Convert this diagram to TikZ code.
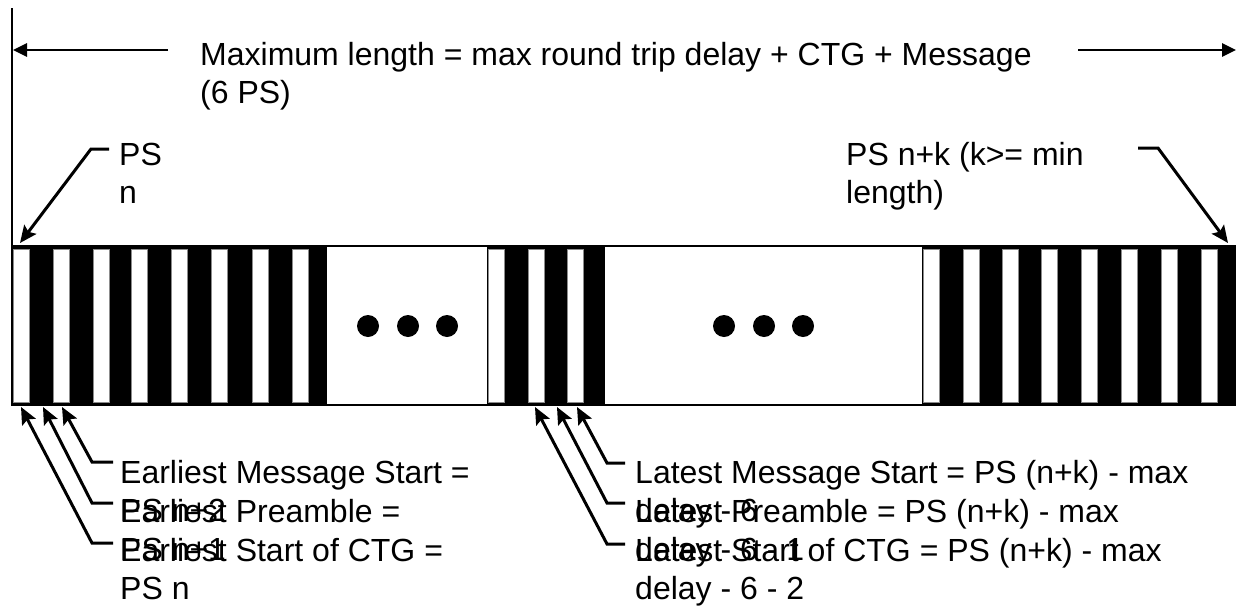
\documentclass[tikz,border=0pt]{standalone}
\usepackage{fontspec}
\setmainfont{Liberation Sans}
\usetikzlibrary{arrows.meta}
\newcommand\twoline[2]{\begin{tabular}[t]{@{}l@{}}#1\\#2\end{tabular}}
\begin{document}
\begin{tikzpicture}[x=1pt,y=-1pt,
  lbl/.style={anchor=base west, inner sep=0pt, font=\fontsize{32}{38.5}\selectfont},
  blk/.style={fill=black, draw=none},
  wstripe/.style={fill=white, draw=black!45, line width=0.8pt},
  dotc/.style={fill=black, draw=none},
  dimarrow/.style={line width=2.6pt, -{Triangle[length=14pt,width=13pt]}},
  leader/.style={line width=3pt, line join=miter, -{Stealth[length=17pt,width=15pt,inset=3pt]}},
  frame/.style={draw=black, line width=2.8pt}
]
\useasboundingbox (0,0) rectangle (1236,605);
% ---- bar ----
\fill[blk] (13,247) rectangle (327,404);
\fill[blk] (487,247) rectangle (605,404);
\fill[blk] (922,247) rectangle (1236,404);
\foreach \x in {13,53,93,131,171,211,252,292,488,528,567,923,963,1002,1041,1081,1121,1161,1201}
  \draw[wstripe] (\x,249) rectangle ++(16,153);
\draw[frame] (12,246) rectangle (1238,405);
\foreach \x in {368,408,447,724,764,803}
  \fill[dotc] (\x,326) circle (11);
% ---- top dimension ----
\draw[line width=2.6pt] (12,8) -- (12,246);
\coordinate (la) at (168,50); \coordinate (lb) at (13,50);
\coordinate (ra) at (1078,50); \coordinate (rb) at (1236,50);
\draw[dimarrow] (la) -- (lb);
\draw[dimarrow] (ra) -- (rb);
\node[lbl] (maxlen) at (200,65) {\twoline{Maximum length = max round trip delay + CTG + Message}{(6 PS)}};
% ---- PS n / PS n+k ----
\node[lbl] (psn) at (119,165) {\twoline{PS}{n}};
\coordinate (psnh) at (109,149); \coordinate (psnc) at (91,149); \coordinate (psnt) at (20,243);
\draw[leader] (psnh) -- (psnc) -- (psnt);
\node[lbl] (psnk) at (846,165) {\twoline{PS n+k (k>= min}{length)}};
\coordinate (psnkh) at (1138,148); \coordinate (psnkc) at (1158,148); \coordinate (psnkt) at (1228,243);
\draw[leader] (psnkh) -- (psnkc) -- (psnkt);
% ---- earliest ----
\node[lbl] (e1) at (120,483) {\twoline{Earliest Message Start =}{PS n+2}};
\node[lbl] (e2) at (120,522) {\twoline{Earliest Preamble =}{PS n+1}};
\node[lbl] (e3) at (120,561) {\twoline{Earliest Start of CTG =}{PS n}};
\coordinate (e1h) at (113,462); \coordinate (e1c) at (92,462); \coordinate (e1t) at (62,407);
\coordinate (e2h) at (113,503); \coordinate (e2c) at (92,503); \coordinate (e2t) at (43,407);
\coordinate (e3h) at (113,543); \coordinate (e3c) at (92,543); \coordinate (e3t) at (21,407);
\draw[leader] (e1h) -- (e1c) -- (e1t);
\draw[leader] (e2h) -- (e2c) -- (e2t);
\draw[leader] (e3h) -- (e3c) -- (e3t);
% ---- latest ----
\node[lbl] (l1) at (635,483) {\twoline{Latest Message Start = PS (n+k) - max}{delay - 6}};
\node[lbl] (l2) at (635,522) {\twoline{Latest Preamble = PS (n+k) - max}{delay - 6 - 1}};
\node[lbl] (l3) at (635,561) {\twoline{Latest Start of CTG = PS (n+k) - max}{delay - 6 - 2}};
\coordinate (l1h) at (625,463); \coordinate (l1c) at (607,463); \coordinate (l1t) at (577,407);
\coordinate (l2h) at (625,503); \coordinate (l2c) at (607,503); \coordinate (l2t) at (557,407);
\coordinate (l3h) at (625,544); \coordinate (l3c) at (607,544); \coordinate (l3t) at (535,407);
\draw[leader] (l1h) -- (l1c) -- (l1t);
\draw[leader] (l2h) -- (l2c) -- (l2t);
\draw[leader] (l3h) -- (l3c) -- (l3t);
\end{tikzpicture}
\end{document}
